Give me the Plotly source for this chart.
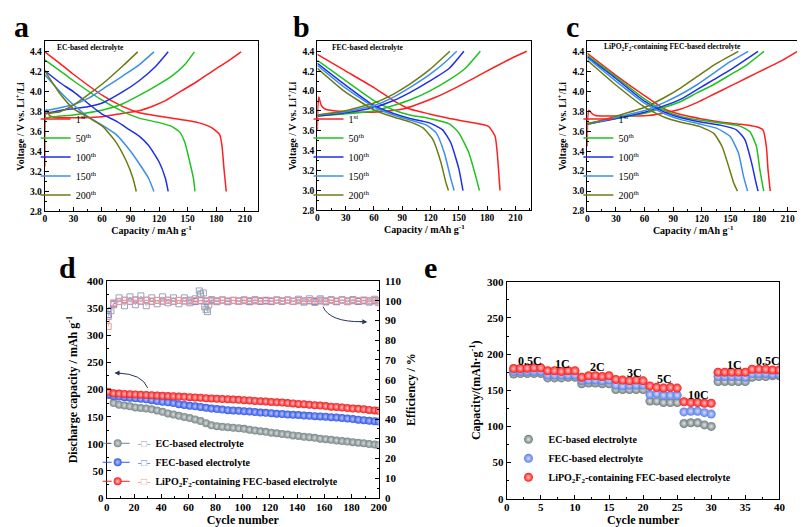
import plotly.graph_objects as go

SERIF = "Liberation Serif"
W, H = 805, 527

# ---------------- Panels a-c : charge / discharge profiles ----------------
cycle_names = ["1<sup>st</sup>", "50<sup>th</sup>", "100<sup>th</sup>", "150<sup>th</sup>", "200<sup>th</sup>"]
cycle_colors = ["#ff1f1f", "#1fc21f", "#1f2fe6", "#3d8fea", "#6a7d12"]

# panel a : EC-based electrolyte
a1_chg_cap = [0, 0.5, 2, 5, 10, 20, 40, 60, 82, 99, 114.5, 126.6, 143.8, 161, 178, 192, 206]
a1_chg_v = [3.25, 3.78, 3.82, 3.76, 3.745, 3.74, 3.74, 3.75, 3.785, 3.81, 3.86, 3.91, 4.01, 4.11, 4.22, 4.305, 4.4]
a1_dis_cap = [0, 15, 30, 61, 82, 99, 133.5, 161, 175, 183.5, 186, 188, 190.4]
a1_dis_v = [4.4, 4.29, 4.175, 3.96, 3.85, 3.79, 3.735, 3.69, 3.64, 3.57, 3.455, 3.23, 3.0]
a2_chg_cap = [0, 1, 30, 61, 82, 99, 120, 133.5, 147, 157]
a2_chg_v = [3.70, 3.735, 3.767, 3.816, 3.88, 3.963, 4.077, 4.159, 4.273, 4.4]
a2_dis_cap = [0, 16, 30, 61, 82, 99, 120, 133.5, 142, 147, 152, 156, 157.6]
a2_dis_v = [4.32, 4.21, 4.11, 3.91, 3.80, 3.735, 3.69, 3.65, 3.59, 3.49, 3.30, 3.13, 3.0]
a3_chg_cap = [0, 15, 30, 45, 61, 82, 99, 116, 129.5]
a3_chg_v = [3.78, 3.81, 3.83, 3.85, 3.89, 4.0, 4.11, 4.25, 4.4]
a3_dis_cap = [0, 16, 30, 47, 61, 75, 88.6, 99, 109, 120, 126.6, 129.5]
a3_dis_v = [4.21, 4.09, 4.0, 3.87, 3.77, 3.705, 3.62, 3.555, 3.46, 3.295, 3.13, 3.0]
a4_chg_cap = [0, 16, 30, 47, 64.5, 82, 99, 114.5]
a4_chg_v = [3.81, 3.84, 3.87, 3.94, 4.05, 4.16, 4.27, 4.4]
a4_dis_cap = [0, 16, 30, 47, 61, 75, 88.6, 99, 109, 114.5]
a4_dis_v = [4.17, 4.0, 3.87, 3.74, 3.66, 3.57, 3.42, 3.28, 3.13, 3.0]
a5_chg_cap = [0, 16, 30, 47, 64.5, 82, 97.5]
a5_chg_v = [3.78, 3.80, 3.865, 3.98, 4.11, 4.26, 4.4]
a5_dis_cap = [0, 16, 30, 47, 61, 75, 86, 92.6, 96]
a5_dis_v = [4.21, 3.98, 3.83, 3.735, 3.65, 3.49, 3.295, 3.13, 3.0]

# panel b : FEC-based electrolyte
b1_chg_cap = [0, 0.5, 1.5, 4, 8, 20, 40, 63, 91, 107, 126, 147, 168, 188.5, 206, 222]
b1_chg_v = [3.6, 3.85, 3.94, 3.86, 3.82, 3.80, 3.79, 3.79, 3.82, 3.87, 3.94, 4.035, 4.14, 4.245, 4.33, 4.4]
b1_dis_cap = [0, 28.5, 60, 80.7, 98, 119, 140, 160.6, 181.5, 188.5, 191, 193.7]
b1_dis_v = [4.37, 4.21, 4.035, 3.905, 3.82, 3.77, 3.725, 3.69, 3.645, 3.545, 3.35, 3.0]
b2_chg_cap = [0, 28.5, 60, 80.7, 98, 119, 140, 157, 172.8]
b2_chg_v = [3.75, 3.77, 3.80, 3.855, 3.91, 4.0, 4.115, 4.23, 4.4]
b2_dis_cap = [0, 28.5, 60, 80.7, 98, 119, 140, 150, 160.6, 167.6, 171.8]
b2_dis_v = [4.31, 4.115, 3.905, 3.81, 3.76, 3.725, 3.67, 3.58, 3.38, 3.155, 3.0]
b3_chg_cap = [0, 28.5, 60, 80.7, 98, 119, 140, 155.4]
b3_chg_v = [3.75, 3.78, 3.835, 3.905, 3.985, 4.10, 4.23, 4.4]
b3_dis_cap = [0, 28.5, 60, 80.7, 98, 119, 132.8, 141.5, 150, 154.4]
b3_dis_v = [4.28, 4.07, 3.855, 3.775, 3.725, 3.68, 3.61, 3.48, 3.22, 3.0]
b4_chg_cap = [0, 28.5, 60, 80.7, 98, 119, 136, 147.8]
b4_chg_v = [3.76, 3.79, 3.855, 3.94, 4.035, 4.165, 4.295, 4.4]
b4_dis_cap = [0, 28.5, 60, 80.7, 98, 115.4, 126, 134.6, 141.5, 145]
b4_dis_v = [4.26, 4.04, 3.84, 3.76, 3.71, 3.66, 3.58, 3.38, 3.12, 3.0]
b5_chg_cap = [0, 28.5, 60, 80.7, 98, 119, 140.5]
b5_chg_v = [3.76, 3.80, 3.88, 3.97, 4.07, 4.215, 4.4]
b5_dis_cap = [0, 28.5, 60, 80.7, 98, 112, 122.4, 131, 136, 139]
b5_dis_v = [4.23, 4.0, 3.81, 3.74, 3.69, 3.63, 3.515, 3.285, 3.09, 3.0]

# panel c : LiPO2F2-containing FEC-based electrolyte
c1_chg_cap = [0, 0.5, 1.7, 5.2, 8.6, 29.3, 63.7, 84.4, 98.1, 115.4, 132.6, 149.8, 167, 187.7, 204.9, 220.4]
c1_chg_v = [3.45, 3.75, 3.81, 3.775, 3.758, 3.752, 3.758, 3.791, 3.823, 3.889, 3.97, 4.051, 4.133, 4.231, 4.312, 4.4]
c1_dis_cap = [0, 29.3, 60.3, 80.9, 98.1, 118.8, 139.5, 160.1, 177.3, 184.2, 187.7, 189.4, 191.8]
c1_dis_v = [4.38, 4.165, 3.954, 3.823, 3.768, 3.726, 3.693, 3.67, 3.644, 3.612, 3.449, 3.221, 3.0]
c2_chg_cap = [0, 29.3, 60.3, 80.9, 98.1, 115.4, 132.6, 149.8, 167, 185.3]
c2_chg_v = [3.68, 3.726, 3.781, 3.84, 3.898, 3.986, 4.068, 4.165, 4.263, 4.4]
c2_dis_cap = [0, 29.3, 60.3, 80.9, 98.1, 118.8, 139.5, 160.1, 170.5, 177.3, 180.8, 184.9]
c2_dis_v = [4.36, 4.149, 3.921, 3.807, 3.749, 3.709, 3.683, 3.651, 3.595, 3.449, 3.221, 3.0]
c3_chg_cap = [0, 29.3, 60.3, 80.9, 98.1, 115.4, 132.6, 149.8, 179]
c3_chg_v = [3.67, 3.726, 3.791, 3.856, 3.921, 4.019, 4.117, 4.214, 4.4]
c3_dis_cap = [0, 29.3, 60.3, 80.9, 98.1, 118.8, 139.5, 156.7, 165.3, 172.2, 176.7, 179]
c3_dis_v = [4.345, 4.133, 3.898, 3.791, 3.735, 3.693, 3.661, 3.612, 3.514, 3.286, 3.09, 3.0]
c4_chg_cap = [0, 29.3, 60.3, 80.9, 98.1, 115.4, 132.6, 149.8, 168.7]
c4_chg_v = [3.67, 3.735, 3.807, 3.889, 3.97, 4.068, 4.182, 4.296, 4.4]
c4_dis_cap = [0, 29.3, 60.3, 80.9, 98.1, 118.8, 136, 149.8, 158.4, 163.6, 168]
c4_dis_v = [4.335, 4.107, 3.879, 3.775, 3.716, 3.67, 3.628, 3.547, 3.384, 3.156, 3.0]
c5_chg_cap = [0, 29.3, 60.3, 80.9, 98.1, 115.4, 132.6, 158.4]
c5_chg_v = [3.67, 3.749, 3.84, 3.938, 4.035, 4.149, 4.263, 4.4]
c5_dis_cap = [0, 29.3, 60.3, 80.9, 98.1, 118.8, 132.6, 141.2, 148, 153.2, 157.4]
c5_dis_v = [4.31, 4.068, 3.84, 3.74, 3.69, 3.644, 3.579, 3.449, 3.253, 3.09, 3.0]

# ---------------- Panel d : cycling ----------------
cycles_d = list(range(1, 198, 4)) + [200]
cap_ec = [190, 175, 172, 170.5, 169, 167, 166, 165, 163.5, 161.5,
          159, 156, 154, 151.5, 149.5, 147.5, 145, 142, 138, 134,
          132.5, 131.5, 130.5, 129.5, 128.5, 127.5, 126, 124.5, 123, 122,
          120.5, 119.5, 118, 117, 115.5, 114.5, 113, 112, 111, 109.5,
          108.5, 107.5, 106, 105, 104, 103, 102, 101, 99.5, 98.5,
          97.5]
cap_fec = [191, 188, 187, 186, 185, 184, 183, 182, 180.5, 179,
           177.5, 176.5, 175, 173, 171.5, 170, 169, 168, 166.5, 165,
           164, 163, 162, 161.5, 161, 160, 159.5, 158.5, 157.5, 157,
           156.5, 155.5, 155, 154, 153.5, 153, 152, 151.5, 151, 150.5,
           150, 149, 148.5, 147.5, 146.5, 145.5, 144.5, 143.5, 142.5, 141.5,
           141]
cap_lipo = [196, 193, 192.5, 192, 191.5, 191, 190.5, 190, 189.5, 189,
            188.5, 188, 187.5, 187, 186.5, 186, 185.5, 185, 184, 183.5,
            183, 182.5, 182, 181.5, 181, 180.5, 180, 179, 178.5, 178,
            177, 176.5, 176, 175, 174.5, 173.5, 173, 172, 171, 170.5,
            169.5, 168.5, 168, 167, 166, 165, 164.5, 163.5, 162.5, 161.5,
            161]
eff_fec = [93, 98.5, 99.6, 100.3, 99.7, 100.4, 99.8, 100.3, 99.7, 100.2,
           99.8, 100.3, 99.7, 100.2, 99.9, 100.3, 99.6, 100.2, 99.8, 100.3,
           99.9, 100.2, 99.8, 100.1, 99.9, 100.2, 99.8, 100.3, 99.9, 100.1,
           99.8, 100.2, 99.9, 100.3, 99.8, 100.2, 99.9, 100.1, 99.7, 100.3,
           99.8, 100.2, 99.7, 100.3, 99.9, 100.2, 99.8, 100.1, 99.9, 100.2,
           100]
eff_lipo = [87, 99, 99.7, 100.1, 99.8, 100.2, 99.9, 100.1, 99.8, 100.2,
            99.9, 100.1, 99.8, 100.2, 100, 99.8, 100.1, 99.9, 100.2, 99.8,
            100, 100.1, 99.9, 100.2, 99.8, 100, 100.1, 99.9, 100.2, 99.8,
            100, 100.1, 99.9, 100.2, 99.8, 100, 100.1, 99.9, 100.2, 99.8,
            100, 100.1, 99.9, 100.2, 99.8, 100, 100.1, 99.9, 100.2, 99.8,
            100]
ec_eff_cycles = [1, 3, 5] + list(range(9, 66, 4)) + [68, 69, 71, 72, 73, 74, 75] + list(range(77, 198, 4)) + [200]
eff_ec = [92, 95, 98,
          101.5, 97.5, 102, 98, 102.5, 97.5, 101.5, 98.5, 102, 99, 101.5, 98.5, 101.5, 99, 101,
          105, 103.5, 104, 97, 95.5, 94.5, 98,
          100.5, 99.5, 100.5, 99.5, 100.3, 99.7, 100.5, 99.5, 100.5, 99.7, 100.3, 99.6, 100.5,
          99.7, 100.4, 99.6, 100.8, 99.3, 101, 99.2, 101, 99.4, 100.6, 99.5, 100.5, 99.5, 100.6,
          99.6, 100.4, 99.3, 100.8,
          99]

# ---------------- Panel e : rate capability ----------------
cycles_e = list(range(1, 41))
rate_ec = [172.5, 173, 173, 173, 173, 167, 167, 167, 168, 168, 159, 160, 160, 159, 159,
           151, 151, 151, 151, 151, 135, 135, 133, 133, 133, 104, 105, 105, 102, 100,
           162, 162, 162, 162, 162, 168, 169, 169, 170, 170]
rate_fec = [176, 176, 176, 176, 176, 171, 171, 171, 171, 171, 163.5, 164, 164, 163, 164,
            157, 156, 157, 157, 157, 144, 145, 143, 143, 143, 120, 121, 121, 119, 117,
            169, 169, 169, 169, 168, 173, 173, 173, 172, 172]
rate_lipo = [180, 180, 180.5, 181, 181, 177, 177, 176, 177, 177, 168, 170, 170, 169, 170,
             165, 164, 163, 164, 163, 156, 154, 153, 154, 153, 134, 133, 133, 132, 132,
             175, 175, 175, 175, 175, 179, 179, 179, 178, 178]
rate_labels = ["0.5C", "1C", "2C", "3C", "5C", "10C", "1C", "0.5C"]
rate_label_x = [3.4, 8.2, 13.3, 18.7, 23.2, 28.2, 33.4, 38.3]
rate_label_y = [191, 186, 182, 174, 165, 143, 185, 190]

series_names = ["EC-based electrolyte", "FEC-based electrolyte",
                "LiPO<sub>2</sub>F<sub>2</sub>-containing FEC-based electrolyte"]

# ---------------- helpers ----------------
def xd(p):
    return p / W


def yd(p):
    return 1 - p / H


BLACK = "#000000"


def axis(domain, rng, dtick, minor, tick0=0, fmt=None, tsize=9.5, title=None, tfont=10,
         standoff=2, anchor=None, side=None, overlaying=None, mirror=True, lab_off=0):
    d = dict(domain=domain, range=rng, dtick=dtick, tick0=tick0, showgrid=False, zeroline=False,
             showline=True, linecolor=BLACK, linewidth=1.2, mirror=mirror,
             ticks="inside", ticklen=4, tickwidth=1, tickcolor=BLACK,
             ticklabelstandoff=lab_off,
             minor=dict(dtick=minor, ticks="inside", ticklen=2, tickcolor=BLACK, tick0=tick0),
             tickfont=dict(family=SERIF, size=tsize, color=BLACK, weight="bold"))
    if fmt:
        d["tickformat"] = fmt
    if title:
        d["title"] = dict(text=title, font=dict(family=SERIF, size=tfont, color=BLACK, weight="bold"),
                          standoff=standoff)
    if anchor:
        d["anchor"] = anchor
    if side:
        d["side"] = side
    if overlaying:
        d["overlaying"] = overlaying
    return d


fig = go.Figure()

profile_sets = [
    ("x", "y", "legend3", [(a1_chg_cap, a1_chg_v, a1_dis_cap, a1_dis_v), (a2_chg_cap, a2_chg_v, a2_dis_cap, a2_dis_v),
                           (a3_chg_cap, a3_chg_v, a3_dis_cap, a3_dis_v), (a4_chg_cap, a4_chg_v, a4_dis_cap, a4_dis_v),
                           (a5_chg_cap, a5_chg_v, a5_dis_cap, a5_dis_v)]),
    ("x2", "y2", "legend4", [(b1_chg_cap, b1_chg_v, b1_dis_cap, b1_dis_v), (b2_chg_cap, b2_chg_v, b2_dis_cap, b2_dis_v),
                             (b3_chg_cap, b3_chg_v, b3_dis_cap, b3_dis_v), (b4_chg_cap, b4_chg_v, b4_dis_cap, b4_dis_v),
                             (b5_chg_cap, b5_chg_v, b5_dis_cap, b5_dis_v)]),
    ("x3", "y3", "legend5", [(c1_chg_cap, c1_chg_v, c1_dis_cap, c1_dis_v), (c2_chg_cap, c2_chg_v, c2_dis_cap, c2_dis_v),
                             (c3_chg_cap, c3_chg_v, c3_dis_cap, c3_dis_v), (c4_chg_cap, c4_chg_v, c4_dis_cap, c4_dis_v),
                             (c5_chg_cap, c5_chg_v, c5_dis_cap, c5_dis_v)]),
]

for xa, ya, lg, curves in profile_sets:
    for i, (cc, cv, dc, dv) in enumerate(curves):
        ln = dict(color=cycle_colors[i], width=1.5, shape="spline", smoothing=0.5)
        fig.add_trace(go.Scatter(x=cc, y=cv, mode="lines", line=ln, name=cycle_names[i],
                                 legend=lg, legendgroup=lg + str(i), xaxis=xa, yaxis=ya))
        fig.add_trace(go.Scatter(x=dc, y=dv, mode="lines", line=ln, name=cycle_names[i],
                                 legend=lg, legendgroup=lg + str(i), showlegend=False, xaxis=xa, yaxis=ya))

# panel d
cap_colors = ["#7b8787", "#3558e8", "#f51c1c"]
cap_centers = ["#d6dcdc", "#b9c7ff", "#ffc2c2"]
eff_colors = ["#98a4b6", "#6d7fd6", "#f29a9a"]
eff_series = [(ec_eff_cycles, eff_ec), (cycles_d, eff_fec), (cycles_d, eff_lipo)]
cap_series = [cap_ec, cap_fec, cap_lipo]
for i in range(3):
    fig.add_trace(go.Scatter(x=eff_series[i][0], y=eff_series[i][1], mode="lines+markers",
                             line=dict(color=eff_colors[i], width=0.8),
                             marker=dict(symbol="square-open", size=6, color=eff_colors[i], line=dict(width=1)),
                             showlegend=False, xaxis="x4", yaxis="y6"))
for i in range(3):
    sq = "<span style='color:%s'>-□-</span>  " % eff_colors[i]
    fig.add_trace(go.Scatter(x=cycles_d, y=cap_series[i], mode="lines+markers",
                             line=dict(color=cap_colors[i], width=1, dash="dash"),
                             marker=dict(symbol="circle", size=8, color=cap_colors[i],
                                         gradient=dict(type="radial", color=cap_centers[i]),
                                         line=dict(width=0)),
                             name=sq + series_names[i], legend="legend", xaxis="x4", yaxis="y4"))

# panel e
rate_series = [rate_ec, rate_fec, rate_lipo]
rate_colors = ["#6f7c7c", "#5a7ee8", "#ff1616"]
rate_centers = ["#dfe5e5", "#d2dcff", "#ffc6c6"]
for i in range(3):
    fig.add_trace(go.Scatter(x=cycles_e, y=rate_series[i], mode="markers",
                             marker=dict(symbol="circle", size=9, color=rate_colors[i],
                                         gradient=dict(type="radial", color=rate_centers[i]),
                                         line=dict(width=0)),
                             name=series_names[i], legend="legend2", xaxis="x5", yaxis="y5"))

cap_title = "Capacity / mAh g<sup>-1</sup>"
v_title = "Voltage / V vs. Li<sup>+</sup>/Li"

legend_common = dict(bgcolor="rgba(0,0,0,0)", xanchor="left", yanchor="bottom", itemwidth=30,
                     tracegroupgap=0)

fig.update_layout(
    width=W, height=H, margin=dict(l=0, r=0, t=0, b=0),
    paper_bgcolor="white", plot_bgcolor="white", showlegend=True,
    xaxis=axis([xd(34.3), xd(251)], [0, 224], 30, 15, title=cap_title, anchor="y", standoff=0, lab_off=-2),
    yaxis=axis([yd(202), yd(28)], [2.8, 4.505], 0.2, 0.1, tick0=2.8, fmt=".1f", title=v_title,
               anchor="x", standoff=3),
    xaxis2=axis([xd(311), xd(528.3)], [0, 227], 30, 15, title=cap_title, anchor="y2", standoff=0, lab_off=-2),
    yaxis2=axis([yd(201), yd(28)], [2.8, 4.5], 0.2, 0.1, tick0=2.8, fmt=".1f", title=v_title,
                anchor="x2", standoff=3),
    xaxis3=axis([xd(585), xd(800)], [0, 222], 30, 15, title=cap_title, anchor="y3", standoff=0, lab_off=-2),
    yaxis3=axis([yd(201.7), yd(28)], [2.8, 4.5], 0.2, 0.1, tick0=2.8, fmt=".1f", title=v_title,
                anchor="x3", standoff=3),
    xaxis4=axis([xd(97.3), xd(373.3)], [0, 200], 20, 10, tsize=11, title="Cycle number", tfont=12,
                anchor="y4", standoff=0, lab_off=-1),
    yaxis4=axis([yd(495.3), yd(273.3)], [0, 400], 50, 25, tsize=11,
                title="Discharge capacity / mAh g<sup>-1</sup>", tfont=12, anchor="x4", standoff=6),
    yaxis6=axis([yd(495.3), yd(273.3)], [0, 110], 10, 5, tsize=11, title="Efficiency / %", tfont=12,
                anchor="x4", side="right", overlaying="y4", standoff=5, mirror=False, lab_off=3),
    xaxis5=axis([xd(503.3), xd(780)], [0, 40], 5, 2.5, tsize=11, title="Cycle number", tfont=12,
                anchor="y5", standoff=0, lab_off=-2),
    yaxis5=axis([yd(496), yd(274)], [0, 300], 50, 25, tsize=11,
                title="Capacity/(mAh·g<sup>-1</sup>)", tfont=12, anchor="x5", standoff=3),
    legend=dict(x=xd(88), y=yd(493),
                font=dict(family=SERIF, size=10, color=BLACK, weight="bold"), **legend_common),
    legend2=dict(x=xd(505), y=yd(489),
                 font=dict(family=SERIF, size=10, color=BLACK, weight="bold"), **legend_common),
    legend3=dict(x=xd(25), y=yd(200), font=dict(family=SERIF, size=10, color=BLACK), **legend_common),
    legend4=dict(x=xd(302), y=yd(200), font=dict(family=SERIF, size=10, color=BLACK), **legend_common),
    legend5=dict(x=xd(576), y=yd(200), font=dict(family=SERIF, size=10, color=BLACK), **legend_common),
)

annotations = []
for txt, x, y in [("a", 11, 13), ("b", 295, 13), ("c", 570, 13), ("d", 57, 259), ("e", 426, 259)]:
    annotations.append(dict(text=txt, x=xd(x), y=yd(y), xref="paper", yref="paper", showarrow=False,
                            xanchor="center", yanchor="middle",
                            font=dict(family=SERIF, size=30, color=BLACK, weight="bold")))
for txt, x in [("EC-based electrolyte", 45), ("FEC-based electrolyte", 324),
               ("LiPO<sub>2</sub>F<sub>2</sub>-containing FEC-based electrolyte", 600)]:
    annotations.append(dict(text=txt, x=xd(x), y=yd(34), xref="paper", yref="paper", showarrow=False,
                            xanchor="left", yanchor="middle",
                            font=dict(family=SERIF, size=7.5, color=BLACK, weight="bold")))
for txt, x, y in zip(rate_labels, rate_label_x, rate_label_y):
    annotations.append(dict(text=txt, x=x, y=y, xref="x5", yref="y5", showarrow=False,
                            font=dict(family=SERIF, size=12, color=BLACK, weight="bold")))
# arrow heads for panel d
annotations.append(dict(x=5.6, y=230.6, ax=11, ay=230.2, xref="x4", yref="y4", axref="x4", ayref="y4",
                        text="", showarrow=True, arrowhead=2, arrowsize=1, arrowwidth=1, arrowcolor="#2b3556"))
annotations.append(dict(x=191.6, y=89.3, ax=185, ay=89.5, xref="x4", yref="y6", axref="x4", ayref="y6",
                        text="", showarrow=True, arrowhead=2, arrowsize=1, arrowwidth=1, arrowcolor="#2b3556"))
fig.update_layout(annotations=annotations)

fig.update_layout(shapes=[
    dict(type="path", path="M 30,203 Q 26,229 8,230.4", xref="x4", yref="y4",
         line=dict(color="#2b3556", width=1)),
    dict(type="path", path="M 159,97 Q 164,89.2 188,89.4", xref="x4", yref="y6",
         line=dict(color="#2b3556", width=1)),
])

fig.write_html("out.html")
